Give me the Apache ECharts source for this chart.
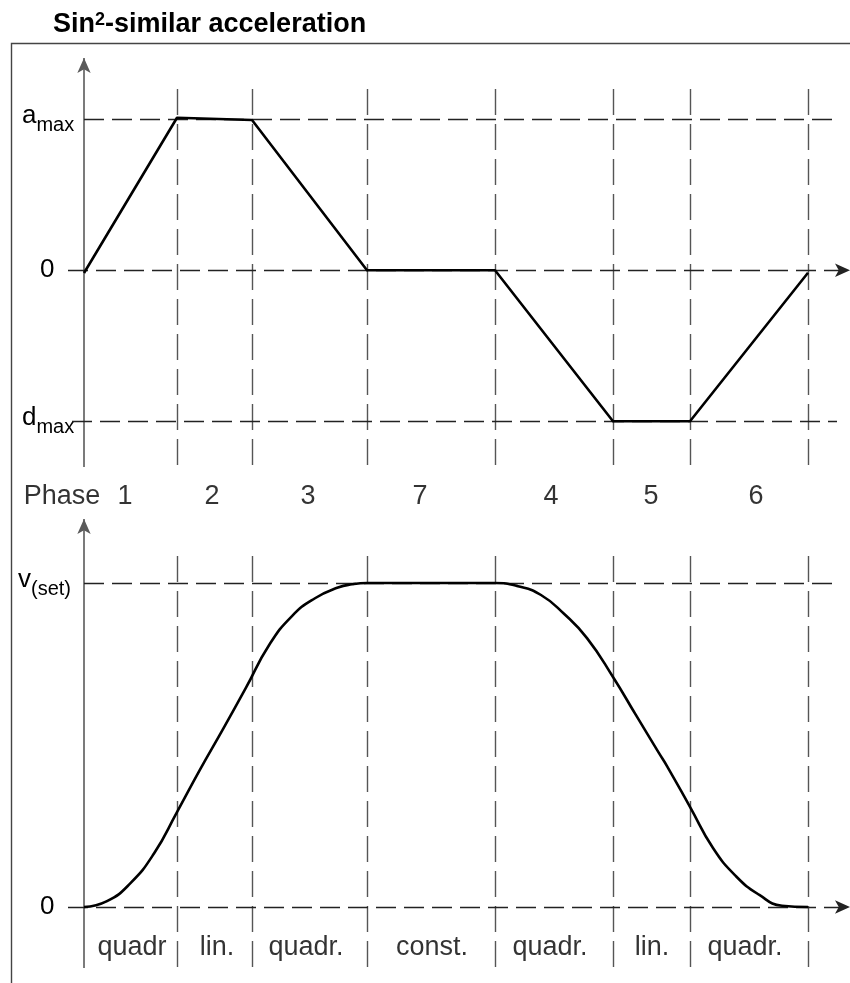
<!DOCTYPE html>
<html>
<head>
<meta charset="utf-8">
<script src="https://cdn.jsdelivr.net/npm/echarts@6/dist/echarts.min.js"></script>
<style>
  html, body { margin: 0; padding: 0; background: #fff; }
  #chart { width: 850px; height: 983px; }
</style>
</head>
<body>
<div id="chart"></div>
<script>
// ---- data -------------------------------------------------------------
// Phase boundaries on the time axis (ms)
const phaseBounds = [0, 93, 168, 283, 411, 529, 606, 724];

// Phase numbers written between the two panels
const phaseNames = ['Phase', '1', '2', '3', '7', '4', '5', '6'];
const phaseNameT = [-22, 41, 128, 224, 336, 467, 567, 672];

// Velocity profile shape of each phase
const profileNames = ['quadr', 'lin.', 'quadr.', 'const.', 'quadr.', 'lin.', 'quadr.'];
const profileNameT = [48, 133, 222, 348, 466, 568, 661];

// Acceleration, relative to a_max / d_max
const accelT = [0, 93, 168, 283, 411, 529, 606, 724];
const accelV = [-0.018, 1.01, 0.995, 0, 0, -1, -1, -0.016];

// Velocity, relative to v(set)
const velT = [0, 23, 46, 70, 93, 116, 139, 162, 185, 208, 231, 254, 268, 283,
              411, 434, 457, 480, 503, 529, 552, 575, 583, 606, 629, 652, 675, 698, 724];
const velV = [0, 0.018, 0.072, 0.165, 0.293, 0.424, 0.549, 0.677, 0.808, 0.898, 0.953, 0.986, 0.996, 1.0,
              1.0, 0.99, 0.963, 0.905, 0.83, 0.71, 0.592, 0.475, 0.435, 0.309, 0.182, 0.095, 0.038, 0.004, 0];

// Axis tick labels: [main text, subscript]
const accelTicks = [1, 0, -1];
const accelTickLabels = [['a', 'max'], ['0', ''], ['d', 'max']];
const velTicks = [1, 0];
const velTickLabels = [['v', '(set)'], ['0', '']];

// ---- drawing ----------------------------------------------------------
const FONT = 'Liberation Sans, Arial, Helvetica, sans-serif';
const T_MIN = -73, T_MAX = 766;

// value ranges of the two panels
const A_RANGE = [-1.654, 1.459];
const V_RANGE = [-0.2099, 1.2099];

const guideDash = [20, 8];
const gridDash = [26, 9];

function tickRich(lead) {
  return {
    m: { fontSize: 26, fontFamily: FONT, color: '#000', verticalAlign: 'bottom', padding: [0, 0, 7, lead] },
    s: { fontSize: 20, fontFamily: FONT, color: '#000', verticalAlign: 'bottom' },
    z: { fontSize: 26, fontFamily: FONT, color: '#000', verticalAlign: 'bottom', padding: [0, 0, 0, 22] }
  };
}

function tickFormatter(ticks, labels) {
  return function (value) {
    const v = typeof value === 'object' && value !== null ? value.value : value;
    let k = -1;
    ticks.forEach((t, i) => { if (Math.abs(t - Number(v)) < 1e-6) k = i; });
    if (k < 0) return '';
    const l = labels[k];
    if (!l[1]) return '{z|' + l[0] + '}';
    return '{m|' + l[0] + '}{s|' + l[1] + '}';
  };
}

function seg(x1, y1, x2, y2, style, endArrow) {
  return [
    { coord: [x1, y1], symbol: 'none' },
    {
      coord: [x2, y2],
      symbol: endArrow ? 'arrow' : 'none',
      symbolSize: endArrow ? [10, 15] : 0,
      lineStyle: style
    }
  ];
}

function guideLines(levels, vTop, vBot, axisBot, axisTop) {
  const lines = [];
  const gray = { color: '#5a5a5a', width: 1.6, type: 'solid' };
  const dashV = { color: '#555', width: 1.4, type: gridDash };
  const dashH = { color: '#222', width: 1.3, type: guideDash };
  // vertical value axis with arrow
  lines.push(seg(0, axisBot, 0, axisTop, gray, true));
  // phase boundaries
  phaseBounds.slice(1).forEach(t => lines.push(seg(t, vBot, t, vTop, dashV, false)));
  // horizontal reference levels
  levels.forEach(l => lines.push(seg(l[0], l[2], l[1], l[2], dashH, !!l[3])));
  return lines;
}

const chart = echarts.init(document.getElementById('chart'), null, { renderer: 'canvas' });

const option = {
  animation: false,
  backgroundColor: '#fff',
  title: {
    left: 53,
    top: 11,
    padding: 0,
    text: '{b|Sin}{sup|2}{b|-similar acceleration}',
    textStyle: {
      rich: {
        b: { fontSize: 27, fontWeight: 'bold', fontFamily: FONT, color: '#000', verticalAlign: 'bottom' },
        sup: { fontSize: 18, fontWeight: 'bold', fontFamily: FONT, color: '#000', verticalAlign: 'bottom', padding: [0, 0, 9, 0] }
      }
    }
  },
  graphic: [{
    type: 'polyline',
    shape: { points: [[11.5, 983], [11.5, 43.5], [850, 43.5]] },
    style: { stroke: '#444', lineWidth: 1.4, fill: null },
    silent: true
  }],
  grid: [
    { left: 11, right: 0, top: 50, height: 470 },
    { left: 11, right: 0, top: 515, height: 460 }
  ],
  xAxis: [
    { gridIndex: 0, type: 'value', min: T_MIN, max: T_MAX, show: false },
    { gridIndex: 1, type: 'value', min: T_MIN, max: T_MAX, show: false }
  ],
  yAxis: [
    {
      gridIndex: 0, type: 'value', min: A_RANGE[0], max: A_RANGE[1],
      axisLine: { show: false }, axisTick: { show: false }, splitLine: { show: false },
      axisLabel: {
        inside: true, margin: 7, customValues: accelTicks,
        formatter: tickFormatter(accelTicks, accelTickLabels), rich: tickRich(4)
      }
    },
    {
      gridIndex: 1, type: 'value', min: V_RANGE[0], max: V_RANGE[1],
      axisLine: { show: false }, axisTick: { show: false }, splitLine: { show: false },
      axisLabel: {
        inside: true, margin: 7, customValues: velTicks,
        formatter: tickFormatter(velTicks, velTickLabels), rich: tickRich(0)
      }
    }
  ],
  series: [
    {
      // guide lines of the acceleration panel
      type: 'line', xAxisIndex: 0, yAxisIndex: 0, data: [], z: 1, silent: true,
      markLine: {
        silent: true, animation: false, label: { show: false },
        data: guideLines([
          [0, 748, 1],
          [-16, T_MAX, 0, true],
          [-12, 753, -1]
        ], 1.207, -1.289, -1.303, 1.406)
      }
    },
    {
      // guide lines of the velocity panel
      type: 'line', xAxisIndex: 1, yAxisIndex: 1, data: [], z: 1, silent: true,
      markLine: {
        silent: true, animation: false, label: { show: false },
        data: guideLines([
          [0, 749, 1],
          [-16, T_MAX, 0, true]
        ], 1.102, -0.185, -0.188, 1.1975)
      }
    },
    {
      name: 'a', type: 'line', xAxisIndex: 0, yAxisIndex: 0, z: 5,
      symbol: 'none', silent: true,
      lineStyle: { color: '#000', width: 2.6, join: 'round' },
      data: accelT.map((t, i) => [t, accelV[i]])
    },
    {
      name: 'v', type: 'line', xAxisIndex: 1, yAxisIndex: 1, z: 5,
      symbol: 'none', silent: true, smooth: 0.5,
      lineStyle: { color: '#000', width: 2.6 },
      data: velT.map((t, i) => [t, velV[i]])
    },
    {
      // phase numbers
      type: 'scatter', xAxisIndex: 0, yAxisIndex: 0, symbolSize: 0, silent: true,
      label: {
        show: true, position: 'inside', formatter: '{b}',
        fontSize: 27, fontFamily: FONT, color: '#000'
      },
      data: phaseNames.map((n, i) => ({ name: n, value: [phaseNameT[i], -1.501] }))
    },
    {
      // velocity profile of each phase
      type: 'scatter', xAxisIndex: 1, yAxisIndex: 1, symbolSize: 0, silent: true,
      label: {
        show: true, position: 'inside', formatter: '{b}',
        fontSize: 27, fontFamily: FONT, color: '#000'
      },
      data: profileNames.map((n, i) => ({ name: n, value: [profileNameT[i], -0.1265] }))
    }
  ]
};

chart.setOption(option);
</script>
</body>
</html>
